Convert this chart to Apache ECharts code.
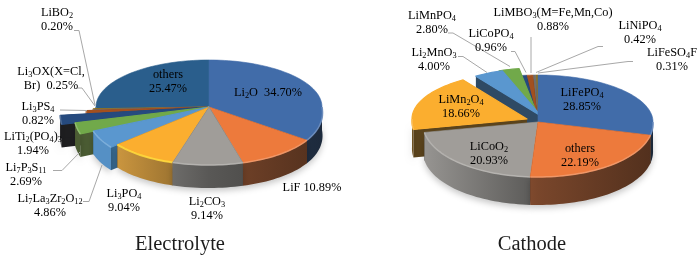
<!DOCTYPE html>
<html>
<head>
<meta charset="utf-8">
<style>html,body{margin:0;padding:0;background:#fff;overflow:hidden}#c{width:700px;height:260px;}</style>
<script src="https://cdn.jsdelivr.net/npm/echarts@6/dist/echarts.min.js"></script>
</head>
<body>
<div id="c"></div>
<script>
// ---- data ----
const electrolyteNames = ['Li_2O','LiF','Li_2CO_3','Li_3PO_4','Li_7La_3Zr_2O_12','Li_7P_3S_11','LiTi_2(PO_4)_3','Li_3PS_4','Li_3OX(X=Cl,\nBr)','LiBO_2','others'];
const electrolyteValues = [34.70,10.89,9.14,9.04,4.86,2.69,1.94,0.82,0.25,0.20,25.47];
const cathodeNames = ['LiFePO_4','others','LiCoO_2','LiMn_2O_4','Li_2MnO_3','LiMnPO_4','LiCoPO_4','LiMBO_3(M=Fe,Mn,Co)','LiNiPO_4','LiFeSO_4F'];
const cathodeValues = [28.85,22.19,20.93,18.66,4.00,2.80,0.96,0.88,0.42,0.31];
const chartTitles = ['Electrolyte','Cathode'];

// ---- styling and layout (not data) ----
const palette = [[65,108,169],[237,122,60],[160,157,153],[251,174,47],[90,151,207],[113,169,74],[38,74,126],[163,80,31],[110,110,110],[150,115,20],[42,94,140]];
const FONT = '"Liberation Serif","Times New Roman",serif';
const layouts = [{
  cx:209, cy:107, rx:113, flare:.1, ryBack:47, ryFront:58, depth:23,
  names:electrolyteNames, values:electrolyteValues,
  stretch:[1,1,1,1,1.07,1.19,1.31,1.08,1.02,1.02,1],
  shift:{},
  wallColor:{4:['#5590c5','#38688f'],5:['#4b5c33','#4b5c33'],6:['#1e1e20','#1e1e20']},
  rimColor:{3:'#ffdc3c'},
  sep:{0:'  ',1:' ',8:'  '},
  labels:[[268,93],[312,188],[207,209],[124,201],[50,206],[26,175],[33,144],[38,114],[51,79],[57,20],[168,82]],
  leaders:[null,null,null,null,
    [[83,201.5],[89,201.5],[102,165]],
    [[53,170.5],[62,170.5],[80,152]],
    null,
    [[60,110],[87,110.5]],
    [[76,88],[82,88],[95,106]],
    [[74,30.5],[79,30.5],[95,105]],
    null]
},{
  cx:538, cy:122, rx:115, flare:.03, ryBack:47, ryFront:55, depth:28,
  names:cathodeNames, values:cathodeValues,
  stretch:[1,1,1,1,1.02,1.02,1,1,1,1],
  shift:{3:[-11,-3],4:[3,-6],5:[0,-6]},
  wallColor:{3:['#6e5223','#5a431c'],4:['#2f4a64','#2f4a64'],5:['#4a5c30','#4a5c30']},
  rimColor:{},
  sep:{},
  labels:[[582,100],[580,156],[489,154],[461,107],[434,60],[432,23],[491,41],[553,20],[640,33],[672,60]],
  leaders:[null,null,null,null,
    [[458,56.5],[463,56.5],[487,72.5]],
    [[448,33],[453,33],[510,66.5]],
    [[511,51.5],[515,51.5],[526,72.5]],
    [[531,37],[531,73]],
    [[603,46.5],[598,46.5],[536,72.5]],
    [[633,61.5],[628,61.5],[538,73]]]
}];

const DEG = Math.PI/180;
const rgb = (c,f) => `rgb(${c.map(v=>Math.round(Math.min(255,v*f))).join(',')})`;
const mix = (c,t) => `rgb(${c.map(v=>Math.round(v+(255-v)*t)).join(',')})`;
const wall = (c,f) => { const m=(c[0]+c[1]+c[2])/3; return rgb(c.map(v=>v+(m-v)*.22),f); };

function richText(name, sep, value){
  const text = name + sep + value.toFixed(2) + '%';
  return text.split('\n').map(line =>
    line.split(/(_\d+)/).filter(Boolean).map(t =>
      t[0]==='_' ? `{s|${t.slice(1)}}` : `{n|${t}}`).join('')).join('\n');
}
const rich = {
  n:{fontFamily:FONT,fontSize:12.3,lineHeight:14,color:'#1c1c1c'},
  s:{fontFamily:FONT,fontSize:8.3,lineHeight:14,color:'#1c1c1c',verticalAlign:'bottom'}
};

function renderSlice(L){
  return function(params, api){
    const i = params.dataIndex;
    const value = api.value(1);
    const total = L.values.reduce((a,b)=>a+b,0);
    const before = L.values.slice(0,i).reduce((a,b)=>a+b,0);
    const a0 = before/total*360, a1 = (before+value)/total*360, mid = (a0+a1)/2;
    const color = palette[i];
    const [ox,oy] = L.shift[i] || [0,0];
    const P = (a,r) => {
      const c = Math.cos(a*DEG);
      const w = 1+L.flare*Math.max(0,-c);
      return [L.cx+ox+L.rx*w*r*Math.sin(a*DEG), L.cy+oy-(c<0?L.ryFront:L.ryBack)*r*c];
    };
    const arc = (from,to,r) => {
      const n = Math.max(2,Math.ceil(Math.abs(to-from)/2)), pts=[];
      for(let k=0;k<=n;k++) pts.push(P(from+(to-from)*k/n,r));
      return pts;
    };
    const r = L.stretch[i];
    const down = p => [p[0],p[1]+L.depth];
    const tip = P(0,0), rim = arc(a0,a1,r);
    const order = 200-Math.abs(mid-180);
    const children = [];
    const custom = L.wallColor[i];
    [a0,a1].forEach(a=>{
      const e=P(a,r);
      children.push({type:'polygon',z2:order,silent:true,
        shape:{points:[tip,e,down(e),down(tip)]},style:{fill:custom?custom[1]:wall(color,.4)}});
    });
    const f0=Math.max(a0,90), f1=Math.min(a1,270);
    const top = {type:'polygon',z2:order+.2,silent:true,shape:{points:[tip].concat(rim)},
      style:{fill:rgb(color,1),stroke:rgb(color,1),lineWidth:(r>1||L.shift[i])?1.2:.6,lineJoin:'round'}};
    if(f1>f0){
      const front=arc(f0,f1,r);
      const x0=L.cx-L.rx, x1=L.cx+L.rx;
      const fill = custom ? custom[0] :
        new echarts.graphic.LinearGradient(x0,0,x1,0,[
          {offset:0,color:wall(color,.95)},{offset:.5,color:wall(color,.56)},{offset:1,color:wall(color,.38)}],true);
      children.push({type:'polygon',z2:order+.1,silent:true,
        shape:{points:front.concat(front.map(down).reverse())},
        style:{fill,shadowColor:'rgba(0,0,0,.22)',shadowBlur:6,shadowOffsetY:3}});
      children.push(top);
      children.push({type:'polyline',z2:order+.3,silent:true,shape:{points:front},
        style:{fill:'none',stroke:L.rimColor[i]||mix(color,.25),lineWidth:L.rimColor[i]?2:1.5,opacity:.85}});
    } else {
      children.push(top);
    }
    if(L.leaders[i]){
      children.push({type:'polyline',z2:900,silent:true,shape:{points:L.leaders[i]},
        style:{fill:'none',stroke:'#a8a8a8',lineWidth:1}});
    }
    const sep = L.sep[i]!==undefined ? L.sep[i] : '\n';
    children.push({type:'text',z2:1000,silent:true,x:L.labels[i][0],y:L.labels[i][1],
      style:{text:richText(L.names[i],sep,value),rich,align:'center',verticalAlign:'middle',fontFamily:FONT,fontSize:12.3}});
    return {type:'group',children};
  };
}

const chart = echarts.init(document.getElementById('c'),null,{renderer:'canvas'});
chart.setOption({
  animation:false,
  backgroundColor:'#fff',
  title:[
    {text:chartTitles[0],left:175,top:229,textAlign:'center',textStyle:{fontFamily:FONT,fontSize:20.5,fontWeight:'normal',color:'#1c1c1c'}},
    {text:chartTitles[1],left:527,top:229,textAlign:'center',textStyle:{fontFamily:FONT,fontSize:20.5,fontWeight:'normal',color:'#1c1c1c'}}
  ],
  series:layouts.map(L=>({type:'custom',coordinateSystem:'none',silent:true,renderItem:renderSlice(L),data:L.values.map((v,i)=>[i,v]),dimensions:['index','value']}))
});
</script>
</body>
</html>
